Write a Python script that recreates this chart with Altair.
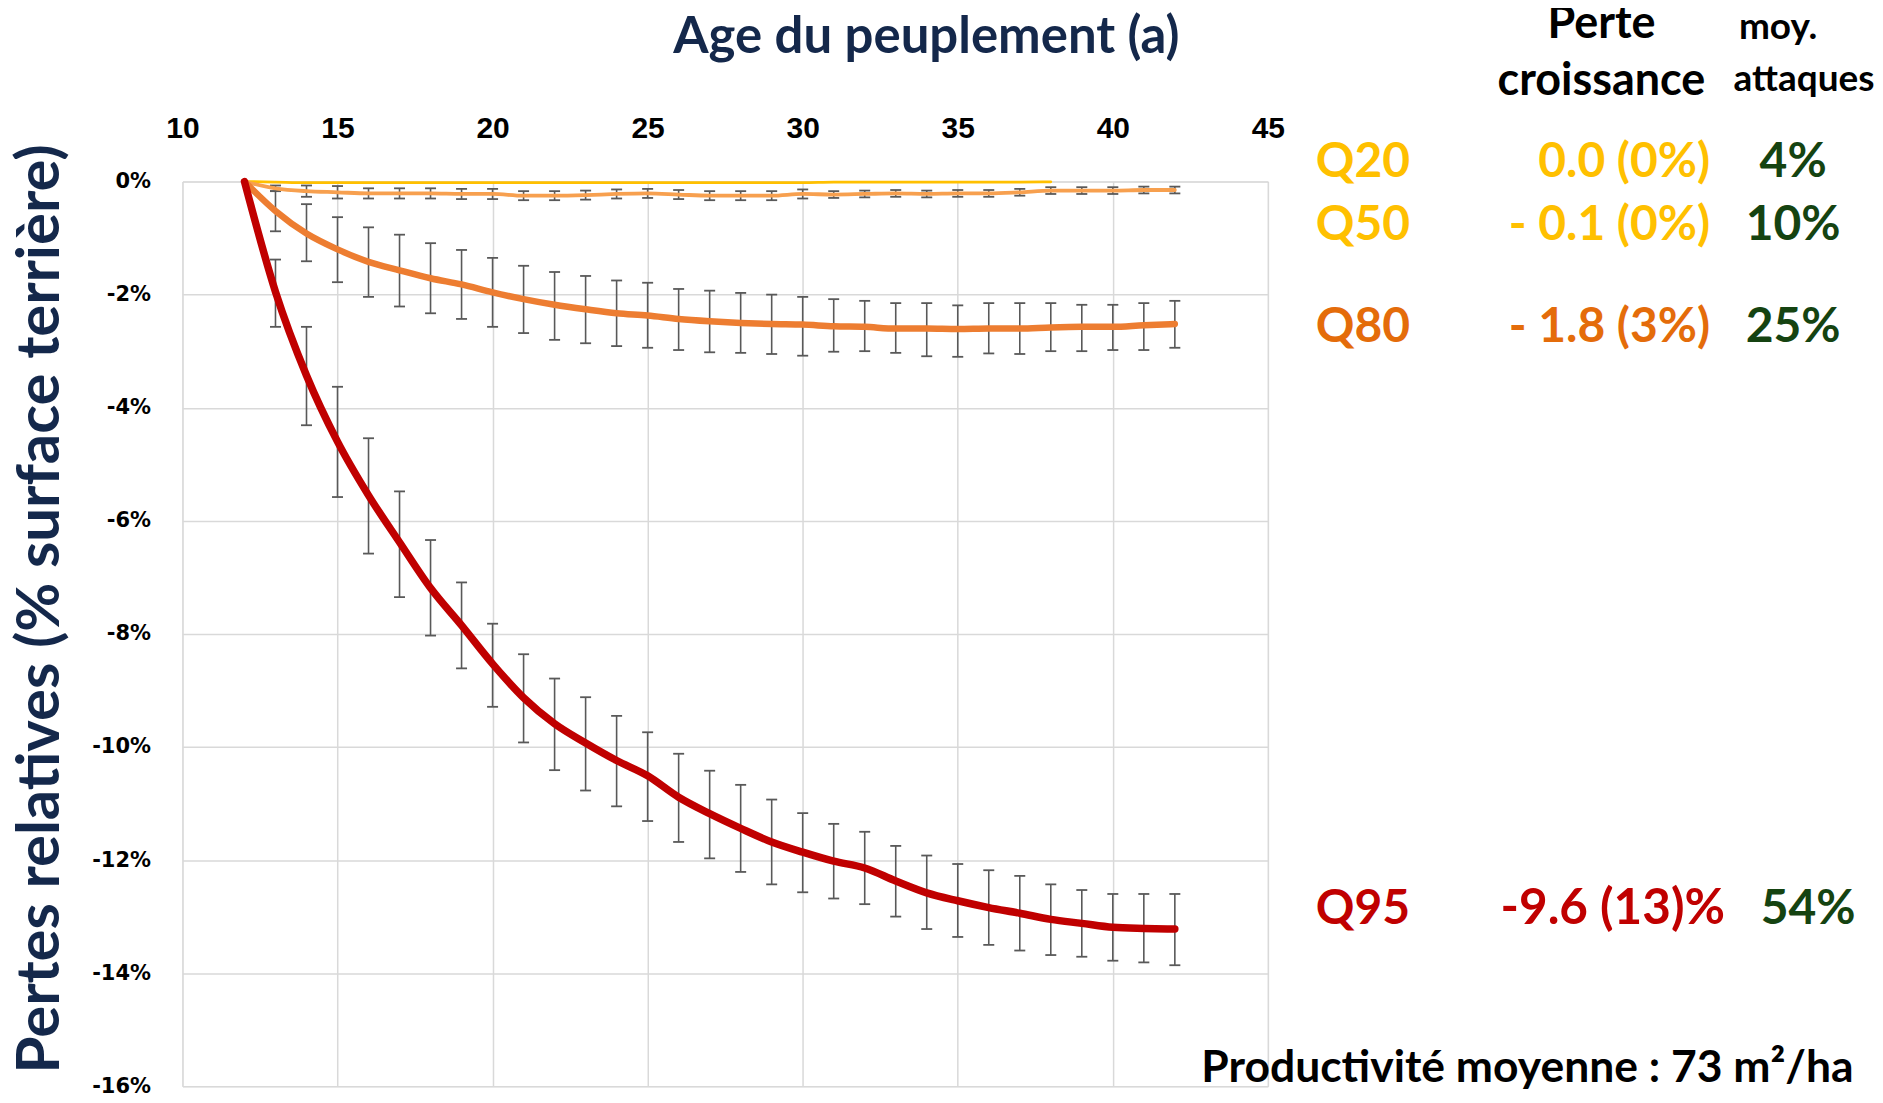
import altair as alt
import pandas as pd

# ---------------- data ----------------
ages = list(range(12, 43))
err_ages = list(range(13, 43))
q20_ages = list(range(12, 39))

q20 = [0.0, -0.01, -0.02, -0.02, -0.02, -0.02, -0.02, -0.02, -0.02, -0.02,
       -0.02, -0.02, -0.02, -0.02, -0.02, -0.02, -0.02, -0.02, -0.02, -0.01,
       -0.01, -0.01, -0.01, -0.01, -0.01, -0.01, -0.005]

q50 = [0.0, -0.12, -0.17, -0.19, -0.21, -0.21, -0.21, -0.22, -0.22, -0.25,
       -0.25, -0.24, -0.22, -0.21, -0.23, -0.25, -0.25, -0.25, -0.22, -0.23,
       -0.22, -0.21, -0.22, -0.21, -0.21, -0.19, -0.16, -0.16, -0.16, -0.15,
       -0.15]
q50_lo = [-0.07, -0.07, -0.08, -0.12, -0.12, -0.12, -0.13, -0.13, -0.17,
          -0.17, -0.16, -0.14, -0.13, -0.15, -0.17, -0.17, -0.17, -0.14,
          -0.17, -0.16, -0.15, -0.16, -0.15, -0.15, -0.13, -0.10, -0.10,
          -0.10, -0.09, -0.09]
q50_hi = [-0.17, -0.27, -0.30, -0.30, -0.30, -0.30, -0.31, -0.31, -0.33,
          -0.33, -0.32, -0.30, -0.29, -0.31, -0.33, -0.33, -0.33, -0.30,
          -0.29, -0.28, -0.27, -0.28, -0.27, -0.27, -0.25, -0.22, -0.22,
          -0.22, -0.21, -0.21]

q80 = [0.0, -0.52, -0.92, -1.20, -1.42, -1.57, -1.71, -1.82, -1.96, -2.08,
       -2.18, -2.26, -2.33, -2.37, -2.43, -2.47, -2.50, -2.52, -2.53, -2.56,
       -2.57, -2.60, -2.60, -2.61, -2.60, -2.60, -2.58, -2.57, -2.57, -2.54,
       -2.52]
q80_lo = [-0.17, -0.40, -0.63, -0.81, -0.94, -1.09, -1.21, -1.35, -1.49,
          -1.60, -1.67, -1.75, -1.79, -1.90, -1.93, -1.97, -2.00, -2.04,
          -2.08, -2.11, -2.15, -2.15, -2.19, -2.15, -2.15, -2.15, -2.18,
          -2.18, -2.15, -2.11]
q80_hi = [-0.88, -1.41, -1.78, -2.04, -2.21, -2.33, -2.43, -2.57, -2.68,
          -2.80, -2.86, -2.91, -2.94, -2.98, -3.02, -3.03, -3.05, -3.08,
          -3.01, -3.00, -3.03, -3.09, -3.10, -3.04, -3.05, -3.00, -3.00,
          -2.98, -2.98, -2.94]

q95 = [0.0, -1.95, -3.43, -4.60, -5.55, -6.38, -7.19, -7.85, -8.53, -9.13,
       -9.59, -9.93, -10.24, -10.51, -10.89, -11.18, -11.44, -11.68, -11.86,
       -12.02, -12.14, -12.37, -12.58, -12.72, -12.84, -12.94, -13.05,
       -13.12, -13.19, -13.21, -13.22]
q95_lo = [-1.38, -2.57, -3.63, -4.54, -5.48, -6.34, -7.09, -7.82, -8.36,
          -8.79, -9.12, -9.45, -9.74, -10.12, -10.42, -10.67, -10.93, -11.17,
          -11.36, -11.50, -11.75, -11.92, -12.07, -12.18, -12.28, -12.43,
          -12.53, -12.60, -12.60, -12.60]
q95_hi = [-2.57, -4.31, -5.58, -6.58, -7.35, -8.03, -8.61, -9.29, -9.92,
          -10.41, -10.77, -11.05, -11.31, -11.68, -11.97, -12.21, -12.43,
          -12.57, -12.68, -12.78, -13.00, -13.22, -13.36, -13.50, -13.60,
          -13.68, -13.71, -13.78, -13.81, -13.86]

x_ticks = [10, 15, 20, 25, 30, 35, 40, 45]
y_ticks = [-16, -14, -12, -10, -8, -6, -4, -2, 0]

title_text = "Age du peuplement (a)"
y_title_text = "Pertes relatives (% surface terrière)"
head_perte = ["Perte", "croissance"]
head_moy = ["moy.", "attaques"]
row_names = ["Q20", "Q50", "Q80", "Q95"]
row_losses = ["0.0 (0%)", "- 0.1 (0%)", "- 1.8 (3%)", "-9.6 (13)%"]
row_attacks = ["4%", "10%", "25%", "54%"]
footer_text = "Productivité moyenne : 73 m²/ha"

# ---------------- styles ----------------
W, H = 1087, 906
C_Q20, C_Q50, C_Q80, C_Q95 = "#FFC000", "#F7A04F", "#ED7D31", "#C00000"
C_TXT_Q80 = "#E46C0A"
C_GREEN = "#154311"
C_NAVY = "#14284B"
C_ERR = "#595959"
FONT = "Lato"

xs = alt.Scale(domain=[10, 45], nice=False, zero=False)
ys = alt.Scale(domain=[-16, 0], nice=False, zero=False)

def line_df(xv, yv):
    return pd.DataFrame({"age": xv, "val": yv})

err_df = pd.DataFrame({
    "age": err_ages * 3,
    "lo": q50_lo + q80_lo + q95_lo,
    "hi": q50_hi + q80_hi + q95_hi,
})
cap_df = pd.DataFrame({
    "age": err_ages * 6,
    "v": q50_lo + q50_hi + q80_lo + q80_hi + q95_lo + q95_hi,
})

x_axis = alt.Axis(orient="top", values=x_ticks, title=None, ticks=False, tickSize=0,
                  domain=False, grid=True, gridColor="#D9D9D9", gridWidth=1.5,
                  labelFont="Liberation Sans", labelFontSize=30, labelFontWeight="bold",
                  labelColor="#000000", labelPadding=38, labelFlush=False,
                  labelOverlap=False)
y_axis = alt.Axis(values=y_ticks, title=None, ticks=False, tickSize=0, domain=False,
                  grid=True, gridColor="#D9D9D9", gridWidth=1.5,
                  labelFont="DejaVu Sans", labelFontSize=21, labelFontWeight="bold",
                  labelColor="#000000", labelPadding=32, labelFlush=False,
                  labelOverlap=False, labelExpr="datum.value + '%'")

base_axes = alt.Chart(line_df(ages, q95)).mark_line(opacity=0).encode(
    x=alt.X("age:Q", scale=xs, axis=x_axis),
    y=alt.Y("val:Q", scale=ys, axis=y_axis),
)

rules = alt.Chart(err_df).mark_rule(color=C_ERR, strokeWidth=1.6).encode(
    x=alt.X("age:Q", scale=xs), y=alt.Y("lo:Q", scale=ys), y2="hi:Q")
caps = alt.Chart(cap_df).mark_point(shape="M-1,0L1,0", size=121, filled=False,
                                   strokeWidth=1.8, color=C_ERR, opacity=1).encode(
    x=alt.X("age:Q", scale=xs), y=alt.Y("v:Q", scale=ys))

def series(xv, yv, color, width):
    return alt.Chart(line_df(xv, yv)).mark_line(
        color=color, strokeWidth=width, interpolate="monotone", strokeCap="round"
    ).encode(x=alt.X("age:Q", scale=xs), y=alt.Y("val:Q", scale=ys))

l20 = series(q20_ages, q20, C_Q20, 2.8)
l50 = series(ages, q50, C_Q50, 3.8)
l80 = series(ages, q80, C_Q80, 6.5)
l95 = series(ages, q95, C_Q95, 7.5)

def label(txt, x, y, size, color, align="center", angle=0, font=FONT):
    kw = dict(align=align, baseline="alphabetic", fontSize=size, fontWeight="bold",
              font=font, color=color)
    if angle:
        kw["angle"] = angle
    return alt.Chart(pd.DataFrame({"t": [txt]})).mark_text(**kw).encode(
        text="t:N", x=alt.value(x), y=alt.value(y))

texts = [
    label(title_text, 745, -129, 51, C_NAVY),
    label(y_title_text, -124, 428, 60, C_NAVY, angle=270),
    label(head_perte[0], 1421, -144, 45, "#000000"),
    label(head_perte[1], 1421, -87, 45, "#000000"),
    label(head_moy[0], 1598, -143, 37, "#000000"),
    label(head_moy[1], 1624, -91, 37, "#000000"),
    label(footer_text, 1347, 902, 44.5, "#000000"),
]
row_y = [-5, 59, 161, 744]
name_colors = [C_Q20, C_Q20, C_TXT_Q80, C_Q95]
loss_colors = [C_Q20, C_Q20, C_TXT_Q80, C_Q95]
for i in range(4):
    texts.append(label(row_names[i], 1135, row_y[i], 48, name_colors[i], align="left"))
    if i < 3:
        texts.append(label(row_losses[i], 1530, row_y[i], 48, loss_colors[i], align="right"))
    else:
        texts.append(label(row_losses[i], 1320, row_y[i], 49.5, loss_colors[i], align="left"))
    texts.append(label(row_attacks[i], 1613 if i < 3 else 1628, row_y[i], 48, C_GREEN))

chart = alt.layer(base_axes, rules, caps, l20, l50, l80, l95, *texts).properties(
    width=W, height=H,
    padding={"left": 174.7, "top": 173, "right": 608, "bottom": 8},
    autosize=alt.AutoSizeParams(type="none"),
).configure_view(stroke=None).configure(background="white")

chart.save("out.html", embed_options={"renderer": "svg", "actions": False})
